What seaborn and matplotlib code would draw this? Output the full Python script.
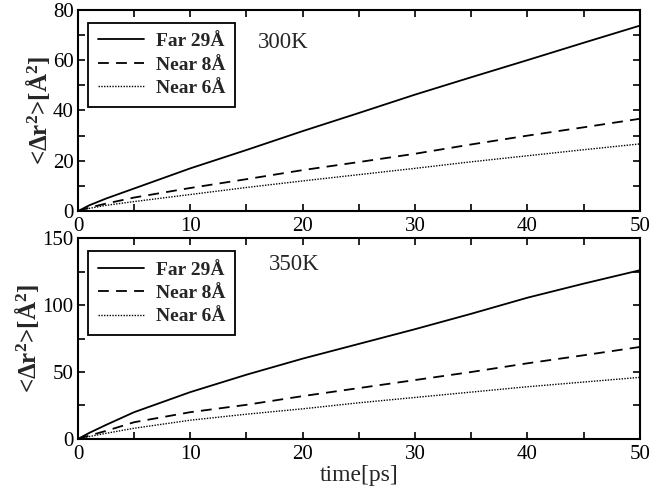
import matplotlib
matplotlib.use("Agg")
import matplotlib.pyplot as plt
import numpy as np
import pandas as pd
import seaborn as sns
from matplotlib.ticker import MultipleLocator

# time axis [ps]
time_ps = [0, 1, 2.5, 5, 10, 15, 20, 25, 30, 35, 40, 45, 50]

# 300K
far29_300 = [0, 2.3, 5.0, 9.0, 17.0, 24.3, 31.8, 39.0, 46.3, 53.2, 60.0, 66.9, 73.7]
near8_300 = [0, 1.4, 3.0, 5.4, 9.2, 12.7, 16.3, 19.5, 22.8, 26.5, 30.0, 33.3, 36.7]
near6_300 = [0, 1.1, 2.3, 3.8, 6.6, 9.4, 12.0, 14.5, 17.0, 19.6, 22.0, 24.4, 26.7]

# 350K
far29_350 = [0, 4.5, 10.5, 20.0, 35.0, 48.0, 60.0, 71.0, 82.0, 93.5, 105.5, 116.0, 126.0]
near8_350 = [0, 2.5, 6.0, 12.5, 20.0, 25.5, 32.0, 38.0, 44.0, 50.0, 56.5, 62.5, 68.7]
near6_350 = [0, 1.8, 4.2, 8.0, 14.0, 18.5, 22.5, 27.0, 31.0, 35.0, 39.0, 42.5, 46.0]

series_labels = ["Far 29Å", "Near 8Å", "Near 6Å"]
temperatures = ["300K", "350K"]

sns.set_theme(style="ticks")
plt.rcParams["font.family"] = ["Liberation Serif", "DejaVu Serif"]
plt.rcParams["mathtext.fontset"] = "custom"
plt.rcParams["mathtext.rm"] = "Liberation Serif:bold"
plt.rcParams["mathtext.bf"] = "Liberation Serif:bold"
plt.rcParams["mathtext.it"] = "Liberation Serif:bold"

line_styles = ["-", (0, (6, 4)), (0, (1, 1))]
line_widths = [1.3, 1.3, 1.0]


def _panel_frame(values):
    frames = []
    for label, vals in zip(series_labels, values):
        frames.append(pd.DataFrame({"time": time_ps, "msd": vals, "series": label}))
    return pd.concat(frames, ignore_index=True)


def _draw_panel(ax, values, temperature, ymax, ymajor, text_pos):
    df = _panel_frame(values)
    for label, ls, lw in zip(series_labels, line_styles, line_widths):
        sub = df[df["series"] == label]
        sns.lineplot(data=sub, x="time", y="msd", ax=ax, color="black",
                     linestyle=ls, linewidth=lw, label=label)

    ax.set_xlim(0, 50)
    ax.set_ylim(0, ymax)
    ax.xaxis.set_major_locator(MultipleLocator(10))
    ax.xaxis.set_minor_locator(MultipleLocator(5))
    ax.yaxis.set_major_locator(MultipleLocator(ymajor))
    ax.yaxis.set_minor_locator(MultipleLocator(ymajor / 2))
    ax.tick_params(which="both", direction="in", top=True, right=True,
                   length=5, width=1.2, labelsize=15, colors="black")
    ax.tick_params(axis="x", pad=4)
    ax.tick_params(axis="y", pad=3)
    for spine in ax.spines.values():
        spine.set_visible(True)
        spine.set_linewidth(1.5)
        spine.set_color("black")

    ax.set_ylabel(r"<$\Delta$r$^2$>[Å$^2$]", fontsize=18, fontweight="bold", labelpad=1)
    ax.text(text_pos[0], text_pos[1], temperature, fontsize=16.5, va="center", ha="left")

    leg = ax.legend(loc="upper left", bbox_to_anchor=(0.018, 0.935), frameon=True,
                    fancybox=False, edgecolor="black", framealpha=1,
                    prop={"weight": "bold", "size": 14}, handlelength=2.4,
                    handletextpad=0.6, borderpad=0.5, labelspacing=0.3,
                    borderaxespad=0.0)
    leg.get_frame().set_linewidth(1.3)


fig = plt.figure(figsize=(6.72, 4.91), dpi=100)
ax_top = fig.add_axes([0.116, 0.570, 0.836, 0.410])
ax_bot = fig.add_axes([0.116, 0.106, 0.836, 0.409])

_draw_panel(ax_top, [far29_300, near8_300, near6_300], temperatures[0], 80, 20, (16.0, 67))
_draw_panel(ax_bot, [far29_350, near8_350, near6_350], temperatures[1], 150, 50, (17.0, 130))

ax_top.set_xlabel("")
ax_bot.set_xlabel("time[ps]", fontsize=17, labelpad=1)

fig.savefig("out.png", dpi=100)
plt.close(fig)
